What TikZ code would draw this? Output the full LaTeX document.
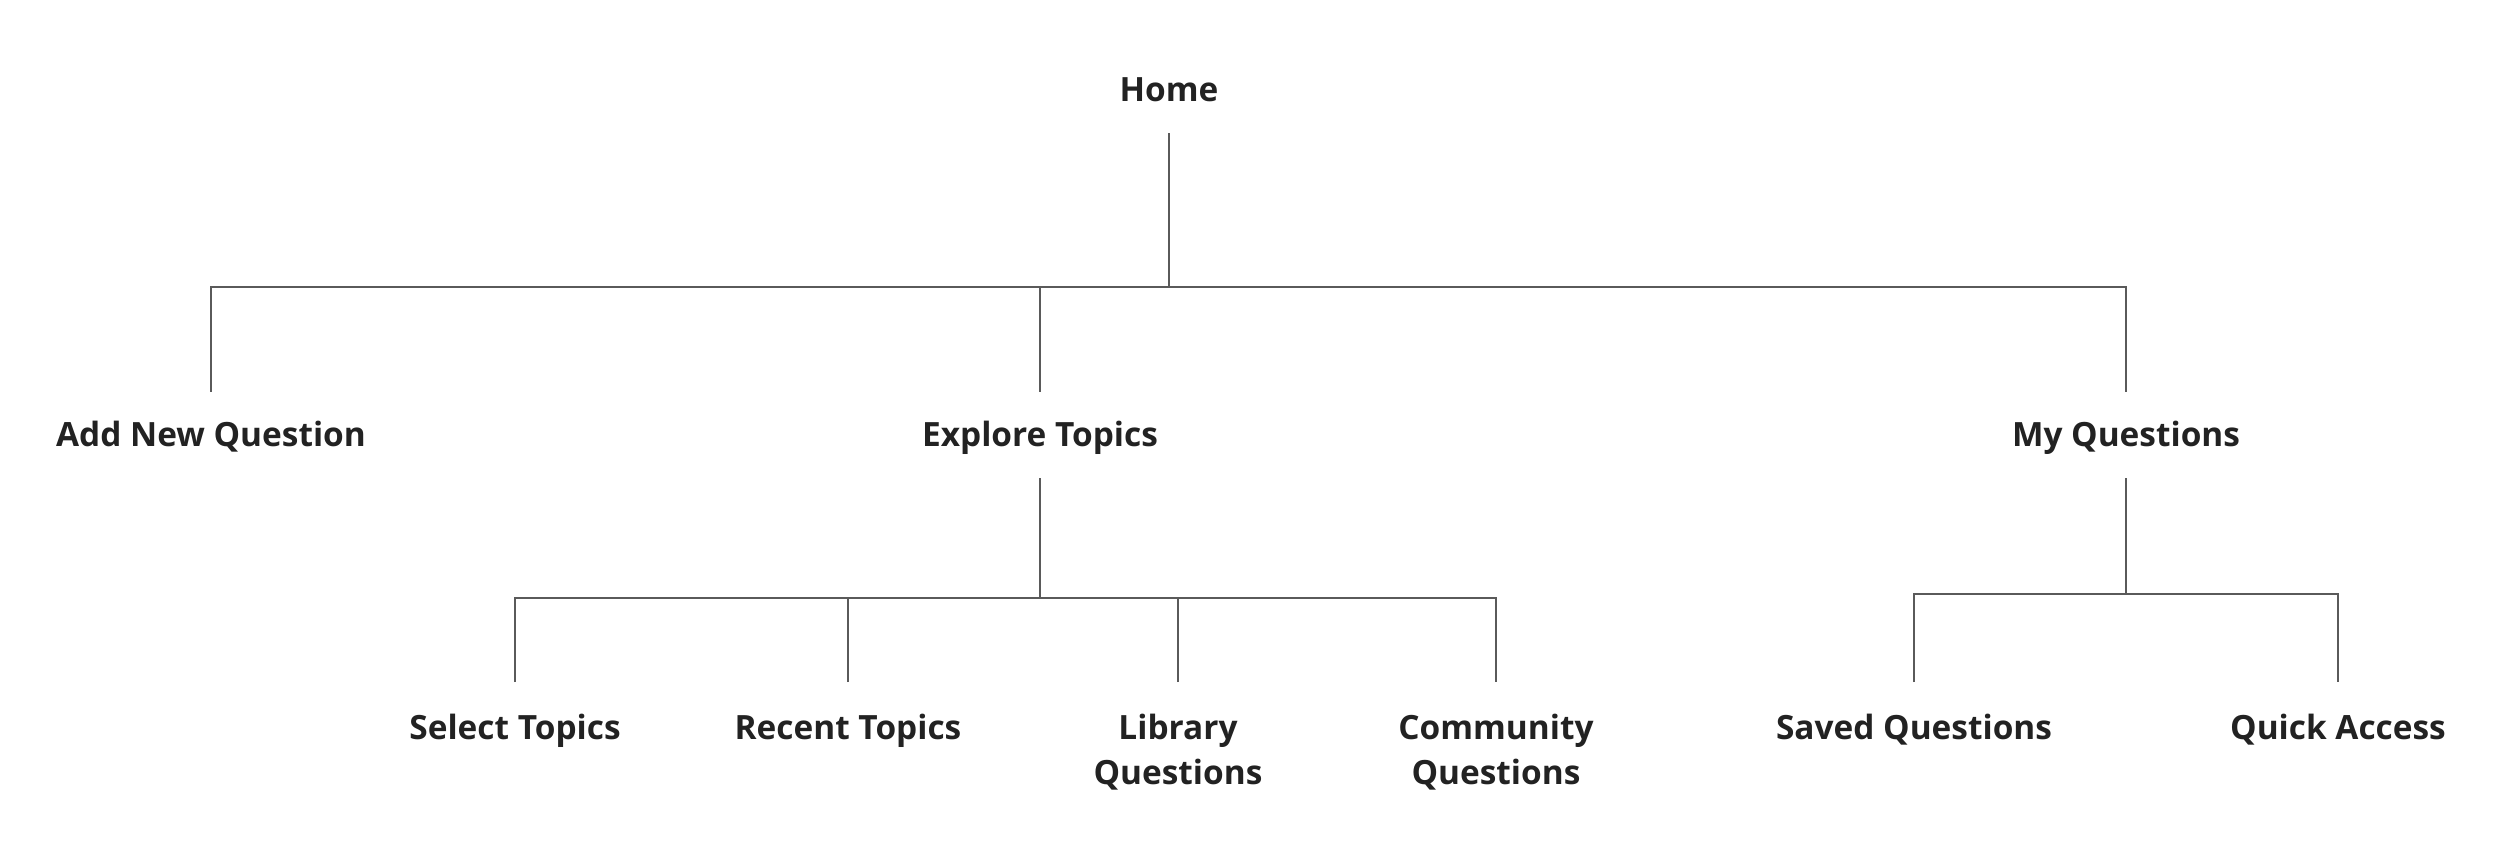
\documentclass[tikz,border=0pt]{standalone}
\usepackage{fontspec}
\setmainfont{Open Sans}
\definecolor{txt}{HTML}{222222}
\definecolor{ln}{HTML}{5A5A5A}
\begin{document}
\begin{tikzpicture}[x=0.01cm,y=-0.01cm,
  lbl/.style={inner xsep=0pt, inner ysep=0.31cm, outer sep=0pt, text=txt,
    font=\fontsize{9.5pt}{12.9pt}\selectfont\bfseries, text height=0.24cm, text depth=0pt, anchor=base},
  leaf/.style={inner xsep=0pt, inner ysep=0.32cm, outer sep=0pt, text=txt, align=center,
    font=\fontsize{9.5pt}{12.9pt}\selectfont\bfseries, anchor=north},
  conn/.style={draw=ln, line width=0.55pt}]
\useasboundingbox (0,0) rectangle (2500,849);
% nodes
\node[lbl] (home) at (1169,102) {Home};
\node[lbl] (add) at (211,447) {Add New Question};
\node[lbl] (explore) at (1040,447) {Explore Topics};
\node[lbl] (myq) at (2126,447) {My Questions};
\node[leaf] (select) at (515,682) {Select Topics};
\node[leaf] (recent) at (848,682) {Recent Topics};
\node[leaf] (library) at (1178,682) {Library\\Questions};
\node[leaf] (community) at (1496,682) {Community\\Questions};
\node[leaf] (saved) at (1914,682) {Saved Questions};
\node[leaf] (quick) at (2338,682) {Quick Access};
% junctions
\coordinate (j0) at (1169,287);
\coordinate (j1) at (1040,598);
\coordinate (j2) at (2126,594);
% connectors
\draw[conn] (home.south) -- (j0);
\draw[conn] (add.north) |- (myq.north |- j0) -- (myq.north);
\draw[conn] (explore.north) -- (explore.north |- j0);
\draw[conn] (explore.south) -- (j1);
\draw[conn] (select.north) |- (community.north |- j1) -- (community.north);
\draw[conn] (recent.north) -- (recent.north |- j1);
\draw[conn] (library.north) -- (library.north |- j1);
\draw[conn] (myq.south) -- (j2);
\draw[conn] (saved.north) |- (quick.north |- j2) -- (quick.north);
\end{tikzpicture}
\end{document}
